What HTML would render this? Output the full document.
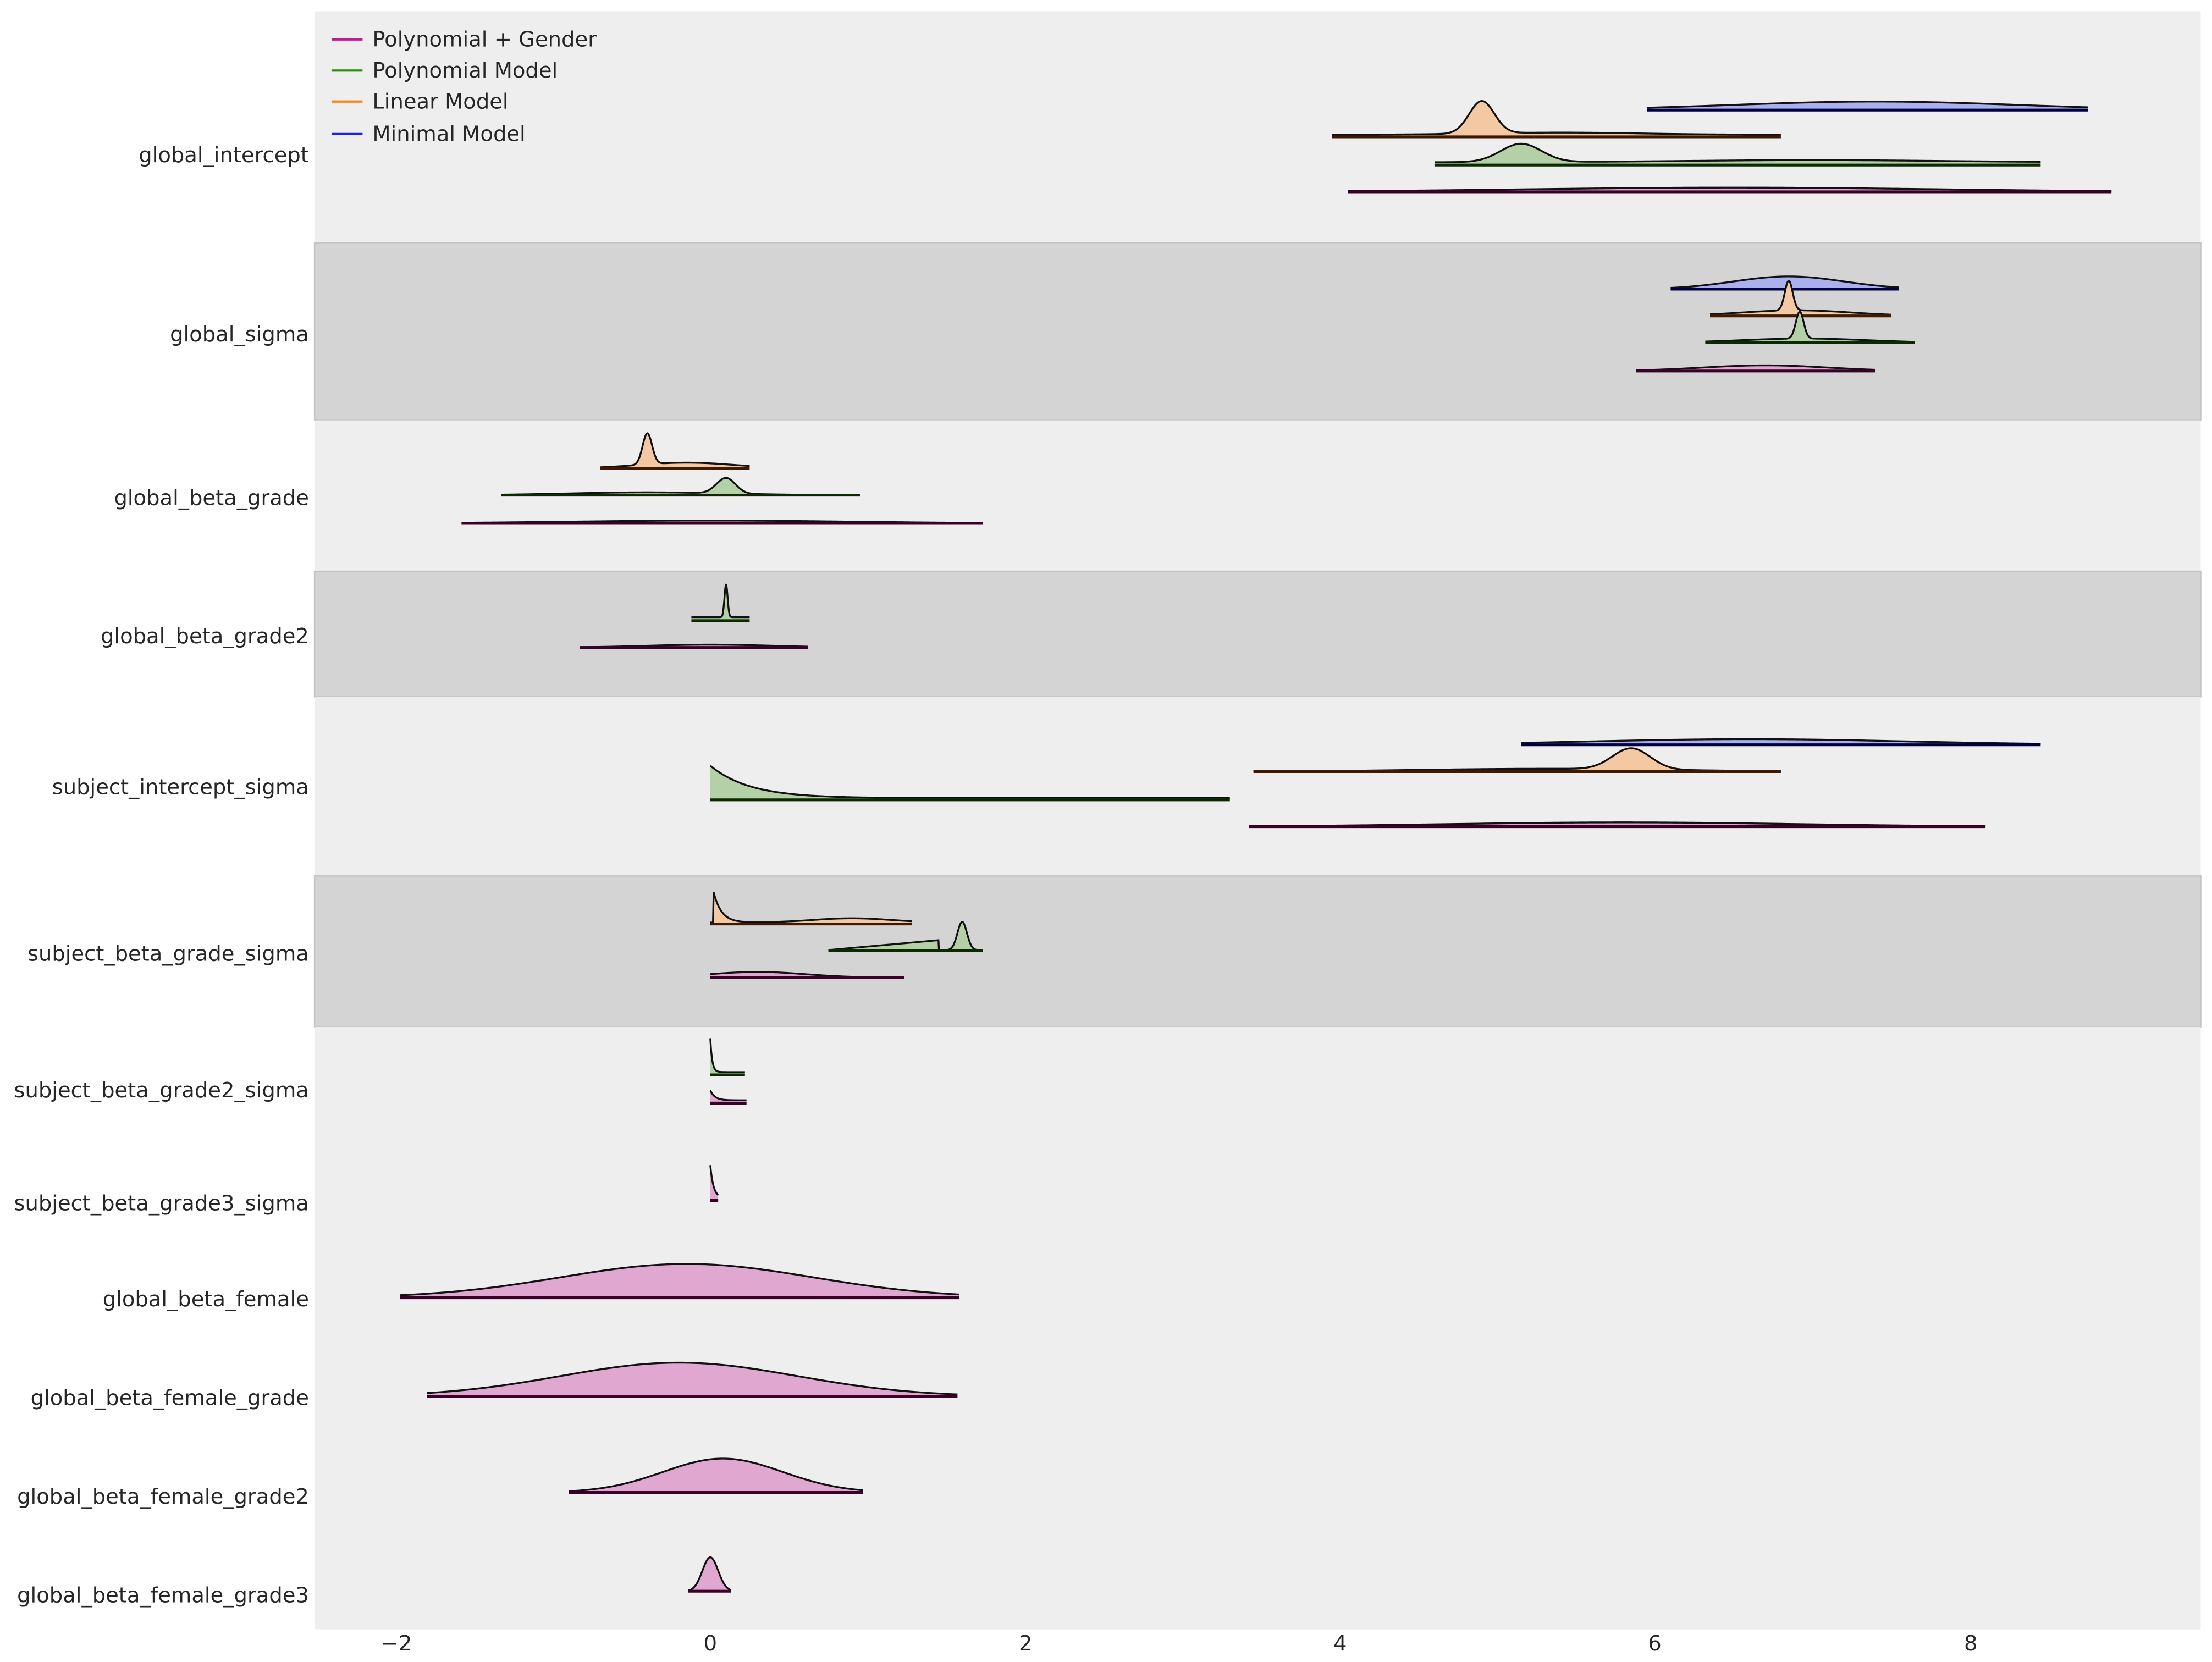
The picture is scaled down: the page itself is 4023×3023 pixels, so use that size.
<!DOCTYPE html>
<html><head><meta charset="utf-8"><style>
html,body{margin:0;padding:0;background:#fff}
svg{display:block}
text{font-family:"DejaVu Sans","Liberation Sans",sans-serif;fill:#262626}
</style></head><body>
<svg id="s" width="4023" height="3023" viewBox="0 0 1568 1178.2" preserveAspectRatio="none" xmlns="http://www.w3.org/2000/svg">
<rect x="0" y="0" width="1568" height="1179" fill="#fff"/>
<rect x="223" y="8" width="1337" height="164" fill="#eeeeee"/>
<rect x="223" y="172" width="1337" height="126" fill="#d4d4d4" stroke="#c4c4c4" stroke-width="1"/>
<rect x="223" y="298" width="1337" height="107" fill="#eeeeee"/>
<rect x="223" y="405" width="1337" height="89" fill="#d4d4d4" stroke="#c4c4c4" stroke-width="1"/>
<rect x="223" y="494" width="1337" height="127" fill="#eeeeee"/>
<rect x="223" y="621" width="1337" height="107" fill="#d4d4d4" stroke="#c4c4c4" stroke-width="1"/>
<rect x="223" y="728" width="1337" height="427" fill="#eeeeee"/>
<g font-size="15" text-anchor="end">
<text x="219" y="115">global_intercept</text>
<text x="219" y="242">global_sigma</text>
<text x="219" y="358">global_beta_grade</text>
<text x="219" y="456">global_beta_grade2</text>
<text x="219" y="563">subject_intercept_sigma</text>
<text x="219" y="681">subject_beta_grade_sigma</text>
<text x="219" y="778">subject_beta_grade2_sigma</text>
<text x="219" y="858">subject_beta_grade3_sigma</text>
<text x="219" y="926">global_beta_female</text>
<text x="219" y="996">global_beta_female_grade</text>
<text x="219" y="1066">global_beta_female_grade2</text>
<text x="219" y="1136">global_beta_female_grade3</text>
</g>
<g font-size="15" text-anchor="middle">
<text x="281" y="1170">−2</text>
<text x="503.5" y="1170">0</text>
<text x="727" y="1170">2</text>
<text x="950" y="1170">4</text>
<text x="1173" y="1170">6</text>
<text x="1397" y="1170">8</text>
</g>
<g id="ridges"></g>
<g stroke-width="1.6">
<line x1="235" y1="28" x2="257" y2="28" stroke="#c51b8a"/>
<line x1="235" y1="50" x2="257" y2="50" stroke="#2a8a0e"/>
<line x1="235" y1="72" x2="257" y2="72" stroke="#ff7f0e"/>
<line x1="235" y1="95" x2="257" y2="95" stroke="#2020ee"/>
</g>
<g font-size="15">
<text x="264" y="33">Polynomial + Gender</text>
<text x="264" y="55">Polynomial Model</text>
<text x="264" y="77">Linear Model</text>
<text x="264" y="100">Minimal Model</text>
</g>
</svg>
<script>
var X=function(v){return 503.5+111.6*v;};
var C={m:["#aab0ee","#000040"],l:["#f5c8a4","#401a00"],p:["#b4d0a6","#0c2a00"],g:["#e0a8d0","#3a0028"]};
function f(v,cs){var h=0;cs.forEach(function(c){
 if(c[0]=='g')h+=c[3]*Math.exp(-0.5*Math.pow((v-c[1])/c[2],2));
 else if(c[0]=='e'){if(v>=c[1])h+=c[3]*Math.exp(-(v-c[1])/c[2]);}
 else if(c[0]=='c')h+=c[1];
 else if(c[0]=='r'){if(v>=c[1]&&v<=c[2])h+=c[3]*(v-c[1])/(c[2]-c[1]);}
});return h;}
var R=[
['m',78,5.95,8.75,[['g',7.4,0.9,6]]],
['l',97,3.95,6.8,[['g',4.9,0.08,23],['c',1.5],['g',5.4,0.5,1.5]]],
['p',117,4.6,8.45,[['g',5.15,0.13,13],['c',2],['g',7,0.8,1.5]]],
['g',136,4.05,8.9,[['g',6.5,1.3,3]]],
['m',205,6.1,7.55,[['g',6.85,0.35,9]]],
['l',224,6.35,7.5,[['g',6.85,0.025,21],['g',6.9,0.35,4]]],
['p',243,6.32,7.65,[['g',6.92,0.025,19],['g',6.95,0.4,3]]],
['g',263,5.88,7.4,[['g',6.7,0.4,4]]],
['l',332,-0.7,0.25,[['g',-0.4,0.03,22],['g',-0.15,0.3,4]]],
['p',351,-1.33,0.95,[['g',0.1,0.06,11],['g',-0.4,0.5,2]]],
['g',371,-1.58,1.73,[['g',0,0.9,2]]],
['p',440,-0.12,0.25,[['g',0.1,0.01,23],['c',2.5]]],
['g',459,-0.83,0.62,[['g',0,0.4,2]]],
['m',528,5.15,8.45,[['g',6.6,1,4]]],
['l',547,3.45,6.8,[['g',5.85,0.12,15],['g',5.3,0.8,2]]],
['p',567,0.0,3.3,[['e',0,0.25,23],['c',1.2]]],
['g',586,3.42,8.1,[['g',5.8,1.1,3]]],
['l',655,0.0,1.28,[['e',0.02,0.05,22],['g',0.9,0.25,3],['c',1]]],
['p',674,0.75,1.73,[['r',0.75,1.45,7],['g',1.6,0.03,20],['c',0.5]]],
['g',693,0.0,1.23,[['g',0.3,0.3,4]]],
['p',762,0.0,0.22,[['e',0,0.012,24],['c',2]]],
['g',782,0.0,0.23,[['e',0,0.03,7],['c',2]]],
['g',851,0.0,0.05,[['e',0,0.02,23],['c',2]]],
['g',920,-1.97,1.58,[['g',-0.15,0.8,24]]],
['g',990,-1.8,1.57,[['g',-0.2,0.75,24]]],
['g',1058,-0.9,0.97,[['g',0.08,0.38,24]]],
['g',1128,-0.14,0.13,[['g',0,0.05,24]]]
];
var g=document.getElementById('ridges'),out="";
R.forEach(function(r){
 var c=C[r[0]],b=r[1],a=r[2],e=r[3],n=300,pts=[];
 for(var i=0;i<=n;i++){var v=a+(e-a)*i/n;pts.push(X(v).toFixed(2)+","+(b-f(v,r[4])).toFixed(2));}
 var poly="M"+X(a).toFixed(2)+","+b+" L"+pts.join(" L")+" L"+X(e).toFixed(2)+","+b+"Z";
 out+='<path d="'+poly+'" fill="'+c[0]+'" stroke="none"/>';
 out+='<path d="M'+pts.join(" L")+'" fill="none" stroke="#111" stroke-width="1.3"/>';
 out+='<line x1="'+X(a)+'" y1="'+b+'" x2="'+X(e)+'" y2="'+b+'" stroke="'+c[1]+'" stroke-width="2"/>';
});
g.innerHTML=out;
</script>
</body></html>
